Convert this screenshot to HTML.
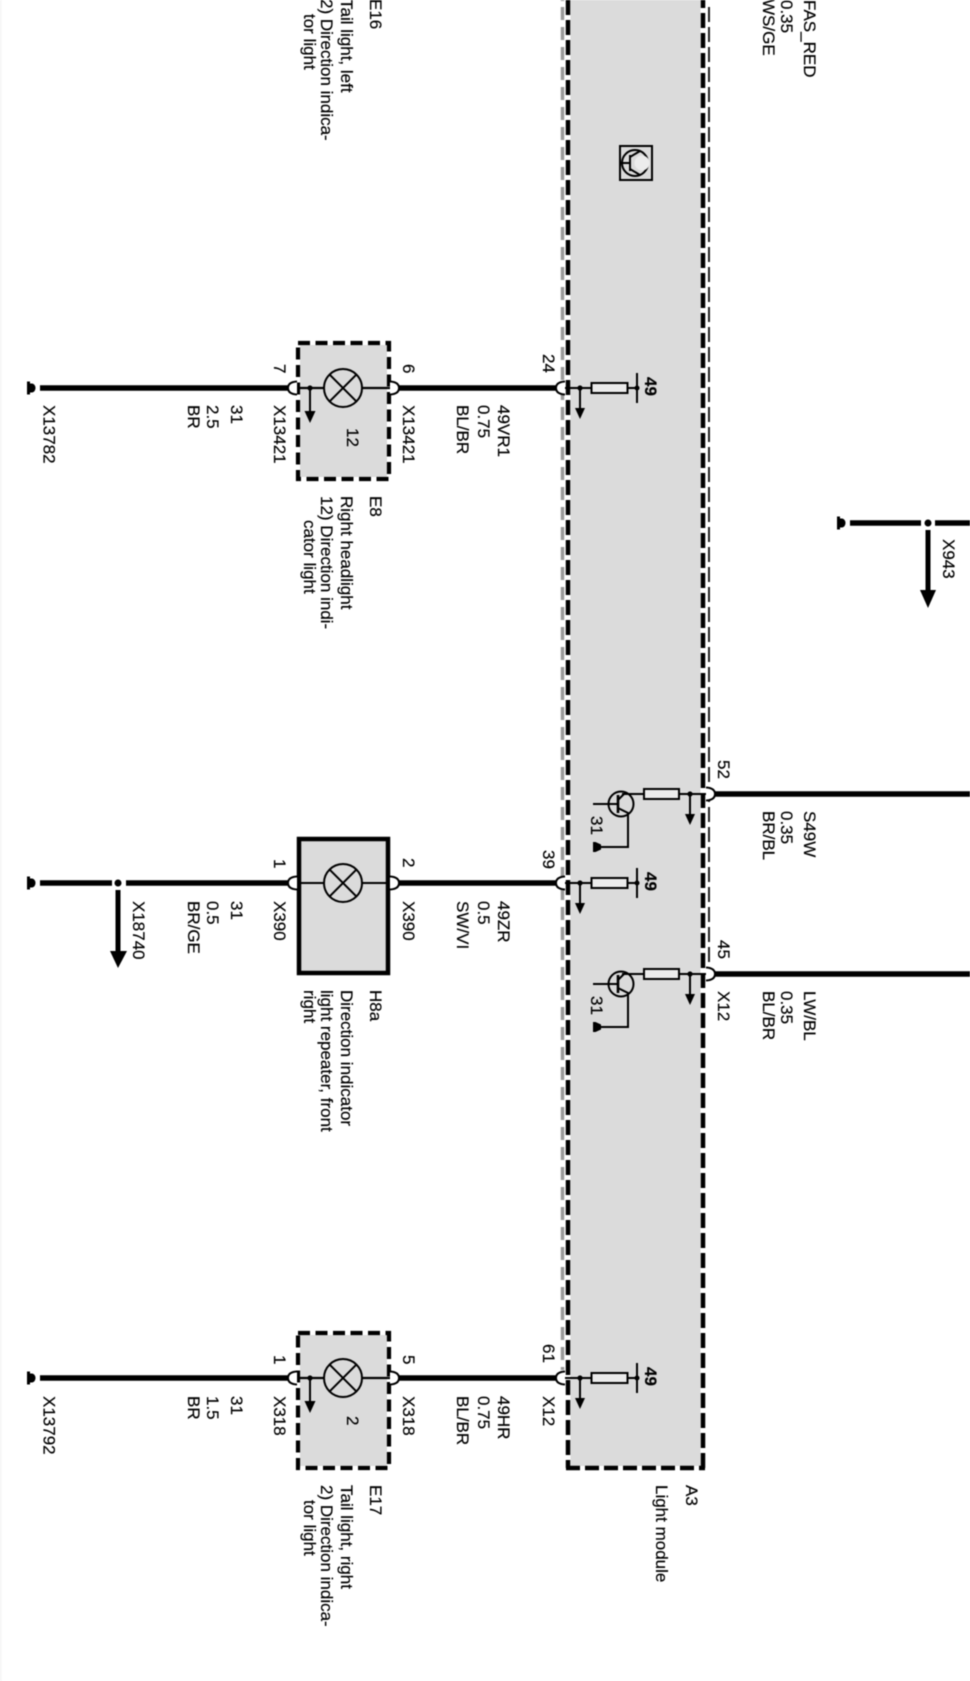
<!DOCTYPE html>
<html><head><meta charset="utf-8"><style>
html,body{margin:0;padding:0;background:#fff;width:970px;height:1681px;overflow:hidden}
svg{display:block;filter:blur(.4px)}
text{font-family:"Liberation Sans",sans-serif;font-size:17px;fill:#000;stroke:#000;stroke-width:.18}
.b{font-weight:bold}
.thin{stroke:#000;stroke-width:2;fill:none}
.wire{stroke:#000;stroke-width:5.5;fill:none}
</style></head><body>
<svg width="970" height="1681" viewBox="0 0 970 1681" xmlns="http://www.w3.org/2000/svg">
<defs>
<g id="cap"><rect x="27" y="-6.5" width="3" height="13"/><path d="M29 -4.5 H32 A3.5 4.5 0 0 1 32 4.5 H29Z"/></g>
<g id="lamp"><circle cx="343" cy="0" r="19" fill="#dbdbdb" stroke="#000" stroke-width="2"/><path d="M329.6 -13.4 L356.4 13.4 M329.6 13.4 L356.4 -13.4" stroke="#000" stroke-width="2"/></g>
<path id="cl" d="M297 -6.5 Q288 -6 288 0 Q288 6 297 6.5" fill="#fff" stroke="#000" stroke-width="2"/>
<path id="cr" d="M390 -6.5 Q399 -6 399 0 Q399 6 390 6.5" fill="#fff" stroke="#000" stroke-width="2"/>
<path id="cm" d="M565 -6.5 Q556 -6 556 0 Q556 6 565 6.5" fill="#fff" stroke="#000" stroke-width="2"/>
<path id="cn" d="M706 -6.5 Q715 -6 715 0 Q715 6 706 6.5" fill="#fff" stroke="#000" stroke-width="2"/>
<g id="arr"><line x1="0" y1="0" x2="0" y2="22" stroke="#000" stroke-width="2"/><circle r="2.6"/><path d="M-5 20 H5 L0 31Z"/></g>
<g id="arr2"><line x1="0" y1="0" x2="0" y2="25" stroke="#000" stroke-width="2"/><circle r="2.6"/><path d="M-5.5 23 H5.5 L0 35Z"/></g>
<g id="res49"><line x1="565" y1="0" x2="637" y2="0" stroke="#000" stroke-width="2"/><rect x="591.5" y="-5" width="36" height="10" fill="#ececec" stroke="#000" stroke-width="2"/><line x1="637" y1="-15" x2="637" y2="15" stroke="#000" stroke-width="2"/><circle cx="637" r="2.5"/><use href="#arr" x="580"/></g>
<g id="trans"><line x1="622" y1="0" x2="706" y2="0" stroke="#000" stroke-width="2"/><rect x="644" y="-5" width="35" height="10" fill="#ececec" stroke="#000" stroke-width="2"/><circle cx="621" cy="10" r="12.5" fill="none" stroke="#000" stroke-width="2"/><line x1="593" y1="10" x2="617" y2="10" stroke="#000" stroke-width="2"/><line x1="618" y1="1" x2="618" y2="19" stroke="#000" stroke-width="2.6"/><path d="M618 6 L624 0 M618 14 L628 19 V53 H599" class="thin"/><path d="M593 48 H595.5 L601 50.5 V55.5 L595.5 58 H593Z"/><use href="#arr" x="690"/></g>
</defs>

<!-- left edge -->
<rect x="0" y="0" width="1.5" height="1681" fill="#f4f4f4"/>

<!-- module A3 -->
<rect x="570.5" y="-10" width="130" height="1476" fill="#dbdbdb"/>
<line x1="568" y1="0" x2="568" y2="1468" stroke="#000" stroke-width="4.5" stroke-dasharray="15 5"/>
<line x1="703" y1="-7" x2="703" y2="1468" stroke="#000" stroke-width="4.5" stroke-dasharray="15 5"/>
<line x1="566" y1="1468" x2="705" y2="1468" stroke="#000" stroke-width="4.5" stroke-dasharray="14 5"/>
<line x1="562.5" y1="7" x2="562.5" y2="1370" stroke="#999" stroke-width="3.5" stroke-dasharray="13 7"/>
<line x1="562.5" y1="0" x2="562.5" y2="1" stroke="#999" stroke-width="3.5"/>
<line x1="709" y1="7" x2="709" y2="968" stroke="#222" stroke-width="2" stroke-dasharray="15 5"/>

<!-- transistor icon -->
<g fill="none" stroke="#000" stroke-width="2">
<rect x="620" y="146" width="32" height="34"/>
<circle cx="635" cy="163" r="13"/>
<circle cx="642" cy="163" r="7.5" fill="#ececec" stroke="none"/>
<path d="M620 163 H630 M630 155 V171 M630 157 L640 151 M630 169 L640 175"/>
</g>

<!-- Row 1 -->
<g transform="translate(0,388)">
<use href="#cap"/>
<line x1="40" y1="0" x2="288" y2="0" class="wire"/>
<line x1="399" y1="0" x2="556" y2="0" class="wire"/>
</g>
<rect x="300" y="345" width="87" height="132" fill="#dbdbdb"/>
<rect x="298" y="343" width="91" height="136" fill="none" stroke="#000" stroke-width="4.2" stroke-dasharray="12 5.5"/>
<g transform="translate(0,388)">
<line x1="297" y1="0" x2="390" y2="0" stroke="#000" stroke-width="2.2"/>
<use href="#lamp"/><use href="#cl"/><use href="#cr"/>
<use href="#arr2" x="310"/>
<use href="#cm"/>
<use href="#res49"/>
</g>

<!-- Row 2 -->
<g transform="translate(0,883)">
<use href="#cap"/>
<line x1="40" y1="0" x2="112" y2="0" class="wire"/>
<line x1="126" y1="0" x2="288" y2="0" class="wire"/>
<circle cx="118" r="3.5"/>
<line x1="118" y1="7" x2="118" y2="70" stroke="#000" stroke-width="5"/>
<path d="M110 68 H127 L118 85Z"/>
<line x1="399" y1="0" x2="556" y2="0" class="wire"/>
</g>
<rect x="299" y="839" width="89" height="134" fill="#dbdbdb" stroke="#000" stroke-width="4.5"/>
<g transform="translate(0,883)">
<line x1="297" y1="0" x2="390" y2="0" stroke="#000" stroke-width="2"/>
<use href="#lamp"/><use href="#cl"/><use href="#cr"/>
<use href="#cm"/>
<use href="#res49"/>
</g>

<!-- Row 3 -->
<g transform="translate(0,1378)">
<use href="#cap"/>
<line x1="40" y1="0" x2="288" y2="0" class="wire"/>
<line x1="399" y1="0" x2="556" y2="0" class="wire"/>
</g>
<rect x="300" y="1335" width="87" height="131" fill="#dbdbdb"/>
<rect x="298" y="1333" width="91" height="135" fill="none" stroke="#000" stroke-width="4.2" stroke-dasharray="12 5.5"/>
<g transform="translate(0,1378)">
<line x1="297" y1="0" x2="390" y2="0" stroke="#000" stroke-width="2.2"/>
<use href="#lamp"/><use href="#cl"/><use href="#cr"/>
<use href="#arr2" x="310"/>
<use href="#cm"/>
<use href="#res49"/>
</g>

<!-- Transistor rows -->
<g transform="translate(0,794)"><use href="#trans"/><line x1="715" y1="0" x2="970" y2="0" class="wire"/><use href="#cn"/></g>
<g transform="translate(0,974)"><use href="#trans"/><line x1="715" y1="0" x2="970" y2="0" class="wire"/><use href="#cn"/></g>

<!-- X943 -->
<g transform="translate(810,523)"><use href="#cap"/></g>
<line x1="850" y1="523" x2="921" y2="523" class="wire"/>
<line x1="935" y1="523" x2="970" y2="523" class="wire"/>
<circle cx="928" cy="523" r="3.5"/>
<line x1="928" y1="530" x2="928" y2="592" stroke="#000" stroke-width="5"/>
<path d="M920 590 H936 L928 608Z"/>

<!-- Labels -->
<g id="labels">
<text transform="translate(370,-1) rotate(90)">E16</text>
<text transform="translate(341,-1) rotate(90)">Tail light, left</text>
<text transform="translate(321,-1) rotate(90)">2) Direction indica-</text>
<text transform="translate(304,14) rotate(90)">tor light</text>
<text transform="translate(804,0) rotate(90)">FAS_RED</text>
<text transform="translate(781,0) rotate(90)">0.35</text>
<text transform="translate(763,-1) rotate(90)">WS/GE</text>

<text transform="translate(43.5,405) rotate(90)">X13782</text>
<text transform="translate(231,405) rotate(90)">31</text>
<text transform="translate(207,405) rotate(90)">2.5</text>
<text transform="translate(188,405) rotate(90)">BR</text>
<text transform="translate(274,405) rotate(90)">X13421</text>
<text transform="translate(274,364) rotate(90)">7</text>
<text transform="translate(403,364) rotate(90)">6</text>
<text transform="translate(403,405) rotate(90)">X13421</text>
<text transform="translate(347,428) rotate(90)">12</text>
<text transform="translate(457,405) rotate(90)">BL/BR</text>
<text transform="translate(478,405) rotate(90)">0.75</text>
<text transform="translate(498,405) rotate(90)">49VR1</text>
<text transform="translate(543,354) rotate(90)">24</text>
<text class="b" transform="translate(645,377) rotate(90)">49</text>
<text transform="translate(370,496) rotate(90)">E8</text>
<text transform="translate(341,496) rotate(90)">Right headlight</text>
<text transform="translate(321,496) rotate(90)">12) Direction indi-</text>
<text transform="translate(304,520) rotate(90)">cator light</text>

<text transform="translate(943,539) rotate(90)">X943</text>

<text transform="translate(718,760) rotate(90)">52</text>
<text transform="translate(804,811) rotate(90)">S49W</text>
<text transform="translate(781,811) rotate(90)">0.35</text>
<text transform="translate(763,811) rotate(90)">BR/BL</text>
<text transform="translate(591,816) rotate(90)">31</text>

<text transform="translate(133,901) rotate(90)">X18740</text>
<text transform="translate(231,901) rotate(90)">31</text>
<text transform="translate(207,901) rotate(90)">0.5</text>
<text transform="translate(188,901) rotate(90)">BR/GE</text>
<text transform="translate(274,901) rotate(90)">X390</text>
<text transform="translate(274,859) rotate(90)">1</text>
<text transform="translate(403,858) rotate(90)">2</text>
<text transform="translate(403,901) rotate(90)">X390</text>
<text transform="translate(457,901) rotate(90)">SW/VI</text>
<text transform="translate(478,901) rotate(90)">0.5</text>
<text transform="translate(498,901) rotate(90)">49ZR</text>
<text transform="translate(543,850) rotate(90)">39</text>
<text class="b" transform="translate(645,872) rotate(90)">49</text>
<text transform="translate(370,990) rotate(90)">H8a</text>
<text transform="translate(341,990) rotate(90)">Direction indicator</text>
<text transform="translate(321,990) rotate(90)">light repeater, front</text>
<text transform="translate(304,990) rotate(90)">right</text>

<text transform="translate(718,940) rotate(90)">45</text>
<text transform="translate(718,991) rotate(90)">X12</text>
<text transform="translate(804,991) rotate(90)">LW/BL</text>
<text transform="translate(781,991) rotate(90)">0.35</text>
<text transform="translate(763,991) rotate(90)">BL/BR</text>
<text transform="translate(591,996) rotate(90)">31</text>

<text transform="translate(43.5,1396) rotate(90)">X13792</text>
<text transform="translate(231,1396) rotate(90)">31</text>
<text transform="translate(207,1396) rotate(90)">1.5</text>
<text transform="translate(188,1396) rotate(90)">BR</text>
<text transform="translate(274,1396) rotate(90)">X318</text>
<text transform="translate(274,1355) rotate(90)">1</text>
<text transform="translate(403,1355) rotate(90)">5</text>
<text transform="translate(403,1396) rotate(90)">X318</text>
<text transform="translate(347,1416) rotate(90)">2</text>
<text transform="translate(457,1396) rotate(90)">BL/BR</text>
<text transform="translate(478,1396) rotate(90)">0.75</text>
<text transform="translate(498,1396) rotate(90)">49HR</text>
<text transform="translate(543,1344) rotate(90)">61</text>
<text transform="translate(543,1396) rotate(90)">X12</text>
<text class="b" transform="translate(645,1367) rotate(90)">49</text>
<text transform="translate(370,1485) rotate(90)">E17</text>
<text transform="translate(341,1485) rotate(90)">Tail light, right</text>
<text transform="translate(321,1485) rotate(90)">2) Direction indica-</text>
<text transform="translate(304,1500) rotate(90)">tor light</text>
<text transform="translate(686,1485) rotate(90)">A3</text>
<text transform="translate(656,1485) rotate(90)">Light module</text>
</g>
</svg>
</body></html>
